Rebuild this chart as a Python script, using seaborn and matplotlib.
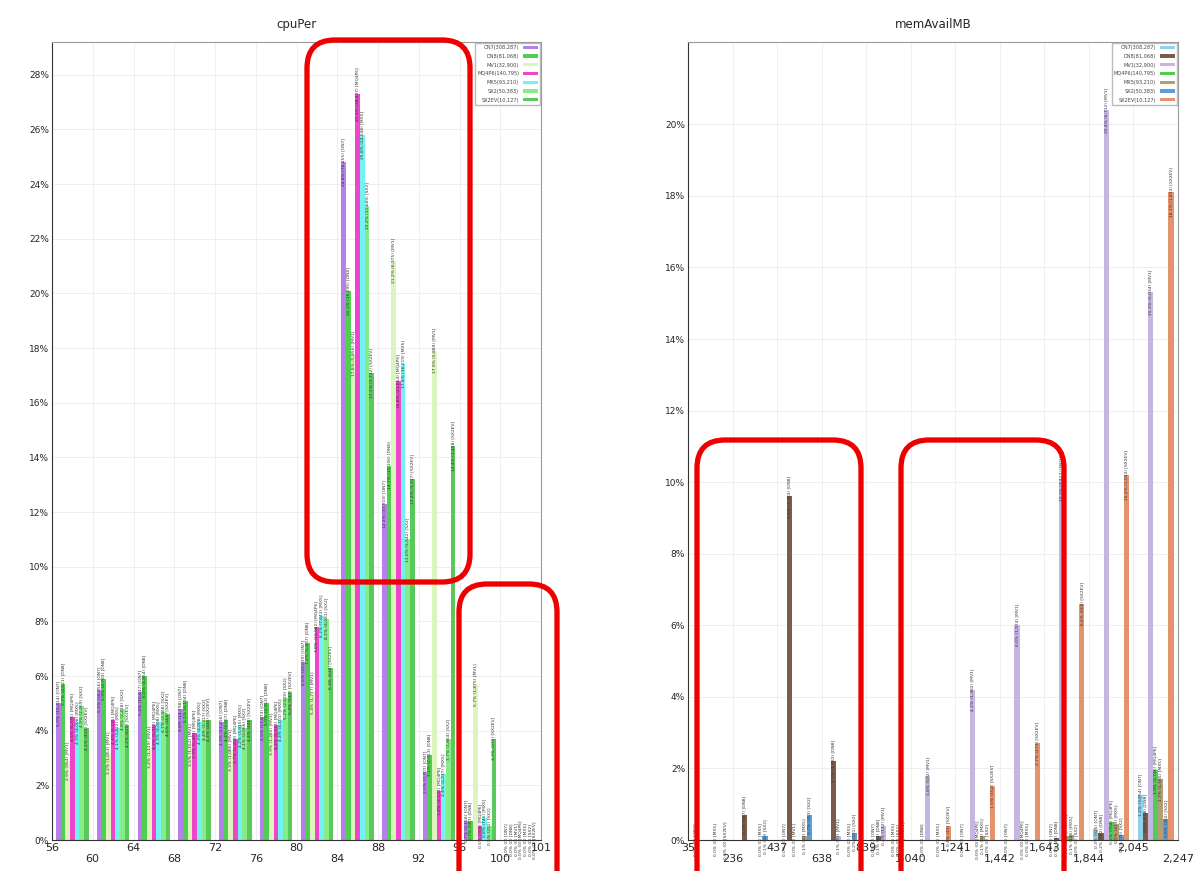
import numpy as np
import pandas as pd
import matplotlib.pyplot as plt
import seaborn as sns
from matplotlib.patches import FancyBboxPatch
from matplotlib.transforms import IdentityTransform

# ── data ──────────────────────────────────────────────────────
series = ["ON7", "DN8", "MV1", "MQ4P6", "MX5", "SX2", "SX2EV"]
totals = [308287, 81068, 32900, 140795, 93210, 50383, 10127]

# cpuPer: bins between these edges (% of samples per model)
cpu_edges = ["56", "60", "64", "68", "72", "76", "80", "84", "88", "92", "96", "100", "101"]
cpu_on7 = [5.0, 5.5, 5.4, 4.8, 4.3, 4.5, 6.5, 24.8, 12.3, 2.5, 0.7, 0.0]
cpu_dn8 = [5.7, 5.9, 6.0, 5.1, 4.4, 5.0, 7.2, 20.1, 13.7, 3.1, 0.7, 0.0]
cpu_mv1 = [2.9, 3.2, 3.4, 3.5, 3.3, 3.9, 5.4, 17.8, 21.2, 17.9, 5.7, 0.0]
cpu_mq4p6 = [4.5, 4.4, 4.2, 3.9, 3.7, 4.2, 7.8, 27.3, 16.8, 1.8, 0.5, 0.0]
cpu_mx5 = [4.3, 4.1, 4.3, 4.3, 4.2, 4.4, 8.2, 25.8, 17.4, 2.4, 0.8, 0.0]
cpu_sx2 = [4.9, 4.8, 4.7, 4.4, 4.1, 5.2, 8.1, 23.2, 11.0, 3.7, 0.5, 0.0]
cpu_sx2ev = [4.1, 4.2, 4.6, 4.4, 4.4, 5.4, 6.3, 17.1, 13.2, 14.4, 3.7, 0.0]

# memAvailMB (None = empty bin, no label)
mem_edges = ["35", "236", "437", "638", "839", "1,040", "1,241", "1,442",
             "1,643", "1,844", "2,045", "2,247"]
mem_on7 = [0.0, None, 0.0, None, 0.0, None, 0.0, 0.0, 0.0, 0.3, 1.25]
mem_dn8 = [None, 0.7, 9.6, 2.2, 0.1, 0.0, None, None, 0.05, 0.2, 0.75]
mem_mv1 = [None, None, 0.0, 0.1, 0.4, 1.8, 4.2, 6.0, 10.1, 20.4, 15.3]
mem_mq4p6 = [None, None, None, None, None, None, 0.0, 0.0, 0.1, 0.5, 1.95]
mem_mx5 = [0.0, 0.0, 0.1, 0.0, 0.0, 0.0, 0.1, 0.0, 0.15, 0.45, 1.7]
mem_sx2 = [None, 0.1, 0.7, 0.2, 0.0, None, 0.0, None, 0.0, 0.15, 0.6]
mem_sx2ev = [0.0, None, None, None, 0.0, 0.4, 1.5, 2.7, 6.6, 10.2, 18.1]

cpu_colors = ["#b77fea", "#4fcf4f", "#dcf5bd", "#ef45cb", "#72f2f2", "#86ec86", "#5bc85b"]
mem_colors = ["#8fd0ec", "#7b5b49", "#c6b4e2", "#52cc52", "#b59c72", "#5b9ed8", "#e5936d"]

cpu_values = [cpu_on7, cpu_dn8, cpu_mv1, cpu_mq4p6, cpu_mx5, cpu_sx2, cpu_sx2ev]
mem_values = [mem_on7, mem_dn8, mem_mv1, mem_mq4p6, mem_mx5, mem_sx2, mem_sx2ev]

sns.set_style("white")
plt.rcParams["font.family"] = ["DejaVu Sans"]

fig = plt.figure(figsize=(12.01, 8.71), dpi=100)
ax1 = fig.add_axes([52 / 1201, 31 / 871, 489 / 1201, 798 / 871])
ax2 = fig.add_axes([688 / 1201, 31 / 871, 490 / 1201, 798 / 871])


def draw(ax, values, edges, colors, title, ymax, yticks):
    n = len(edges) - 1
    rows = []
    for s, vals in zip(series, values):
        for i, v in enumerate(vals):
            rows.append({"bin": i, "series": s, "pct": 0.0 if v is None else v})
    df = pd.DataFrame(rows)
    sns.barplot(data=df, x="bin", y="pct", hue="series", hue_order=series,
                order=list(range(n)), palette=dict(zip(series, colors)),
                width=0.8, errorbar=None, saturation=1, linewidth=0, ax=ax)

    # rotated value labels centred on the bar tops
    for cont, s, vals, tot in zip(ax.containers, series, values, totals):
        for bar, v in zip(cont, vals):
            if v is None:
                continue
            ax.text(bar.get_x() + bar.get_width() / 2, bar.get_height(),
                    f"{v:.1f}% ({round(v * tot / 100):,}) [{s}]",
                    rotation=90, ha="center", va="center", fontsize=3.2, color="#333333")

    ax.set_xlim(-0.5, n - 0.5)
    ax.set_ylim(0, ymax)
    ax.set_xticks(np.arange(n + 1) - 0.5)
    ax.set_xticklabels([e if i % 2 == 0 else "\n" + e for i, e in enumerate(edges)], fontsize=8)
    ax.set_yticks(yticks)
    ax.set_yticklabels([f"{t}%" for t in yticks], fontsize=6.5)
    ax.tick_params(direction="in", length=3, pad=2)
    ax.grid(True, color="#ececec", linewidth=0.6)
    ax.set_axisbelow(True)
    for sp in ax.spines.values():
        sp.set_color("#999999")
        sp.set_linewidth(0.8)
    ax.spines["left"].set_color("#333333")
    ax.spines["bottom"].set_color("#333333")
    ax.set_xlabel("")
    ax.set_ylabel("")
    ax.set_title(title, fontsize=8.5, pad=10)

    handles, labels = ax.get_legend_handles_labels()
    ax.legend(handles, [f"{s}({t:,})" for s, t in zip(series, totals)],
              loc="upper right", fontsize=3.6, markerfirst=False, frameon=True,
              fancybox=False, edgecolor="#aaaaaa", labelspacing=0.75,
              handlelength=3, handleheight=0.6, borderaxespad=0.2, labelcolor="#444444")


draw(ax1, cpu_values, cpu_edges, cpu_colors, "cpuPer", 29.2, list(range(0, 29, 2)))
draw(ax2, mem_values, mem_edges, mem_colors, "memAvailMB", 22.3, list(range(0, 21, 2)))

# red highlight boxes (image pixel coordinates, top-left origin)
boxes = [(307, 40, 470, 582), (459, 584, 557, 900), (697, 440, 861, 900), (901, 440, 1064, 900)]
for x0, y0, x1, y1 in boxes:
    fig.add_artist(FancyBboxPatch((x0, 871 - y1), x1 - x0, y1 - y0,
                                  boxstyle="round,pad=0,rounding_size=28",
                                  transform=IdentityTransform(), fill=False,
                                  edgecolor="#ee0000", linewidth=3.8, zorder=10))

fig.savefig("out.png", dpi=100)
